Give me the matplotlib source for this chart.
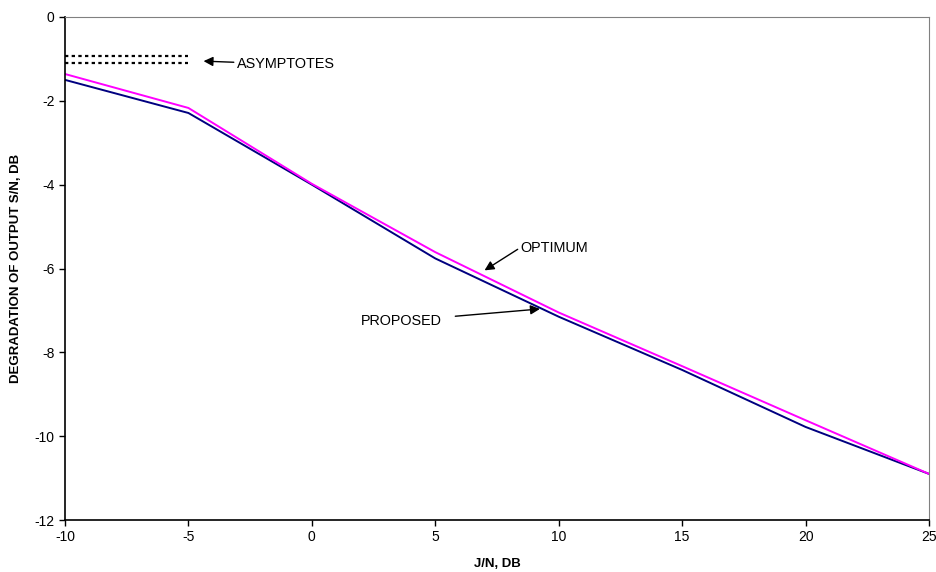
import matplotlib.pyplot as plt

plt.rcParams['font.family'] = ['Liberation Sans', 'DejaVu Sans']
plt.rcParams['axes.unicode_minus'] = False

jn_db = [-10, -5, 0, 5, 10, 15, 20, 25]
optimum = [-1.36, -2.17, -3.98, -5.61, -7.05, -8.33, -9.62, -10.9]
proposed = [-1.50, -2.29, -4.00, -5.76, -7.15, -8.42, -9.78, -10.9]
asymptotes = [-0.93, -1.09]

fig = plt.figure(figsize=(9.37, 5.72), dpi=100)
ax = fig.add_axes([65 / 937, 1 - 520 / 572, 864 / 937, 503 / 572])

ax.plot(jn_db, proposed, color='#000080', lw=1.4)
ax.plot(jn_db, optimum, color='#ff00ff', lw=1.4)

# asymptote markers on the left
for a in asymptotes:
    ax.plot([-10, -5], [a, a], color='black', ls=(0, (1.5, 1.5)), lw=1.6)

arrow = dict(arrowstyle='-|>', color='black', lw=1, mutation_scale=14, shrinkA=0)
ax.annotate('ASYMPTOTES', xy=(-4.5, -1.05), xytext=(-3.05, -1.12),
            fontsize=10.4, va='center', ha='left', arrowprops=dict(arrow, relpos=(0.05, 0.6)))
ax.annotate('OPTIMUM', xy=(6.9, -6.08), xytext=(8.45, -5.5),
            fontsize=10.4, va='center', ha='left', arrowprops=dict(arrow, relpos=(0, 0.5)))
ax.annotate('PROPOSED', xy=(9.35, -6.96), xytext=(5.25, -7.25),
            fontsize=10.4, va='center', ha='right', arrowprops=dict(arrow, shrinkA=8))

ax.set_xlim(-10, 25)
ax.set_ylim(-12, 0)
ax.set_xticks(range(-10, 26, 5))
ax.set_yticks(range(-12, 1, 2))
ax.tick_params(direction='out', length=4, labelsize=10, width=1)
ax.spines['top'].set_color('#808080')
ax.spines['right'].set_color('#808080')
ax.spines['left'].set_linewidth(1.2)
ax.spines['bottom'].set_linewidth(1.2)
ax.set_xlabel('J/N, DB', fontsize=9.5, fontweight='bold', labelpad=10)
ax.set_ylabel('DEGRADATION OF OUTPUT S/N, DB', fontsize=9.5, fontweight='bold', labelpad=9)

fig.savefig('out.png', dpi=100)
